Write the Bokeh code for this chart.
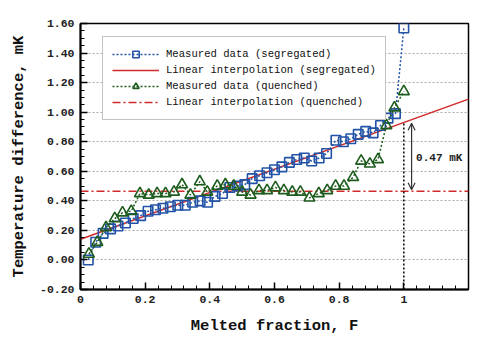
from bokeh.plotting import figure
from bokeh.models import (Range1d, SingleIntervalTicker, PrintfTickFormatter, Arrow,
                          OpenHead, Label, Legend, LegendItem)
from bokeh.embed import file_html
from bokeh.resources import INLINE

# Measured data (segregated)
seg_x = [0.024, 0.047, 0.070, 0.093, 0.116, 0.139, 0.163, 0.186, 0.209, 0.232,
         0.255, 0.278, 0.301, 0.324, 0.347, 0.370, 0.393, 0.416, 0.439, 0.462,
         0.485, 0.508, 0.531, 0.554, 0.577, 0.600, 0.623, 0.646, 0.669, 0.692,
         0.715, 0.738, 0.761, 0.790, 0.813, 0.836, 0.859, 0.882, 0.905, 0.928,
         0.951, 0.974, 1.000]
seg_y = [0.00, 0.12, 0.18, 0.21, 0.23, 0.25, 0.28, 0.30, 0.33, 0.34,
         0.35, 0.36, 0.37, 0.37, 0.39, 0.40, 0.39, 0.43, 0.45, 0.49,
         0.50, 0.51, 0.55, 0.57, 0.59, 0.61, 0.63, 0.66, 0.68, 0.69,
         0.67, 0.69, 0.72, 0.81, 0.80, 0.82, 0.85, 0.87, 0.86, 0.91,
         0.96, 0.99, 1.57]

# Measured data (quenched)
que_x = [0.026, 0.052, 0.079, 0.106, 0.130, 0.157, 0.184, 0.211, 0.237, 0.263,
         0.289, 0.314, 0.340, 0.369, 0.392, 0.423, 0.448, 0.474, 0.500, 0.526,
         0.552, 0.577, 0.603, 0.629, 0.655, 0.680, 0.708, 0.737, 0.763, 0.789,
         0.815, 0.843, 0.868, 0.895, 0.920, 0.946, 0.971, 1.000]
que_y = [0.04, 0.12, 0.22, 0.28, 0.32, 0.33, 0.45, 0.44, 0.45, 0.45,
         0.46, 0.51, 0.44, 0.53, 0.46, 0.50, 0.51, 0.50, 0.46, 0.44,
         0.47, 0.47, 0.49, 0.47, 0.46, 0.46, 0.42, 0.45, 0.47, 0.50,
         0.50, 0.56, 0.67, 0.65, 0.68, 0.91, 1.03, 1.14]

# Linear interpolations
fit_seg_x = [0.0, 1.2]
fit_seg_y = [0.14, 1.088]
fit_que_x = [0.0, 1.2]
fit_que_y = [0.465, 0.465]

# Vertical marker at F = 1
mark_x = [1.0, 1.0]
mark_y = [-0.2, 0.93]
gap_value = 0.47

labels = ["Measured data (segregated)", "Linear interpolation (segregated)",
          "Measured data (quenched)", "Linear interpolation (quenched)"]

FONT = "Liberation Mono"
BLUE = "#2253a6"
GREEN = "#1d5c1d"
RED = "#d12a2a"

p = figure(width=488, height=345, x_range=Range1d(0, 1.2), y_range=Range1d(-0.2, 1.6),
           output_backend="svg", toolbar_location=None,
           min_border_left=80, min_border_right=20, min_border_top=23, min_border_bottom=56)
p.background_fill_color = "white"
p.border_fill_color = "white"
p.outline_line_color = "black"
p.outline_line_width = 1.5

p.xaxis.ticker = SingleIntervalTicker(interval=0.2, num_minor_ticks=5)
p.yaxis.ticker = SingleIntervalTicker(interval=0.2, num_minor_ticks=4)
p.yaxis.formatter = PrintfTickFormatter(format="%.2f")
for ax in (p.xaxis[0], p.yaxis[0]):
    ax.axis_line_width = 2
    ax.axis_line_color = "black"
    ax.major_tick_in = 7
    ax.major_tick_out = 0
    ax.minor_tick_in = 4
    ax.minor_tick_out = 0
    ax.major_tick_line_width = 1.5
    ax.major_label_text_font = FONT
    ax.major_label_text_font_style = "bold"
    ax.major_label_text_font_size = "11.5px"
    ax.major_label_text_color = "#222222"
    ax.axis_label_text_font = FONT
    ax.axis_label_text_font_style = "bold"
    ax.axis_label_text_font_size = "15.5px"
    ax.axis_label_text_color = "#111111"
    ax.major_label_standoff = 6
    ax.axis_label_standoff = 11
p.yaxis.axis_label_standoff = 9
p.xaxis.axis_label = "Melted fraction, F"
p.yaxis.axis_label = "Temperature difference, mK"

p.xgrid.grid_line_color = None
p.ygrid.grid_line_color = "#aaaaaa"
p.ygrid.grid_line_dash = "2 2"
p.ygrid.grid_line_width = 1

r_fit_que = p.line(fit_que_x, fit_que_y, line_color=RED, line_width=1.5, line_dash="8 3 2 3")
r_fit_seg = p.line(fit_seg_x, fit_seg_y, line_color=RED, line_width=1.5)
p.line(mark_x, mark_y, line_color="black", line_width=1.5, line_dash="2 2")

r_seg_l = p.line(seg_x, seg_y, line_color=BLUE, line_width=1.5, line_dash="2 2")
r_seg_m = p.scatter(seg_x, seg_y, marker="square", size=9.5, line_color=BLUE, line_width=1.6,
                    fill_color=None)
r_que_l = p.line(que_x, que_y, line_color=GREEN, line_width=1.5, line_dash="2 2")
r_que_m = p.scatter(que_x, que_y, marker="triangle", size=11, line_color=GREEN, line_width=1.6,
                    fill_color=None)

p.add_layout(Arrow(start=OpenHead(size=7, line_width=1.2, line_color="#333333"),
                   end=OpenHead(size=7, line_width=1.2, line_color="#333333"),
                   x_start=1.024, y_start=fit_que_y[0] + 0.01,
                   x_end=1.024, y_end=fit_seg_y[0] + (fit_seg_y[1] - fit_seg_y[0]) / 1.2 * 1.0 - 0.005,
                   line_color="#333333", line_width=1.2))
p.add_layout(Label(x=1.038, y=0.69, text=f"{gap_value:.2f} mK", text_font=FONT,
                   text_font_style="bold", text_font_size="11px", text_baseline="middle",
                   text_color="#222222"))

legend = Legend(items=[
    LegendItem(label=labels[0], renderers=[r_seg_l, r_seg_m]),
    LegendItem(label=labels[1], renderers=[r_fit_seg]),
    LegendItem(label=labels[2], renderers=[r_que_l, r_que_m]),
    LegendItem(label=labels[3], renderers=[r_fit_que]),
], location=(22, 169))
legend.label_text_font = FONT
legend.label_text_font_size = "10.6px"
legend.label_text_color = "#111111"
legend.glyph_width = 47
legend.glyph_height = 16
legend.label_height = 16
legend.label_standoff = 7
legend.spacing = 0
legend.padding = 9
legend.margin = 0
legend.label_width = 205
legend.border_line_color = "#888888"
legend.border_line_width = 1
legend.background_fill_color = "white"
legend.background_fill_alpha = 1.0
p.add_layout(legend)

open("out.html", "w").write(file_html(p, INLINE))
